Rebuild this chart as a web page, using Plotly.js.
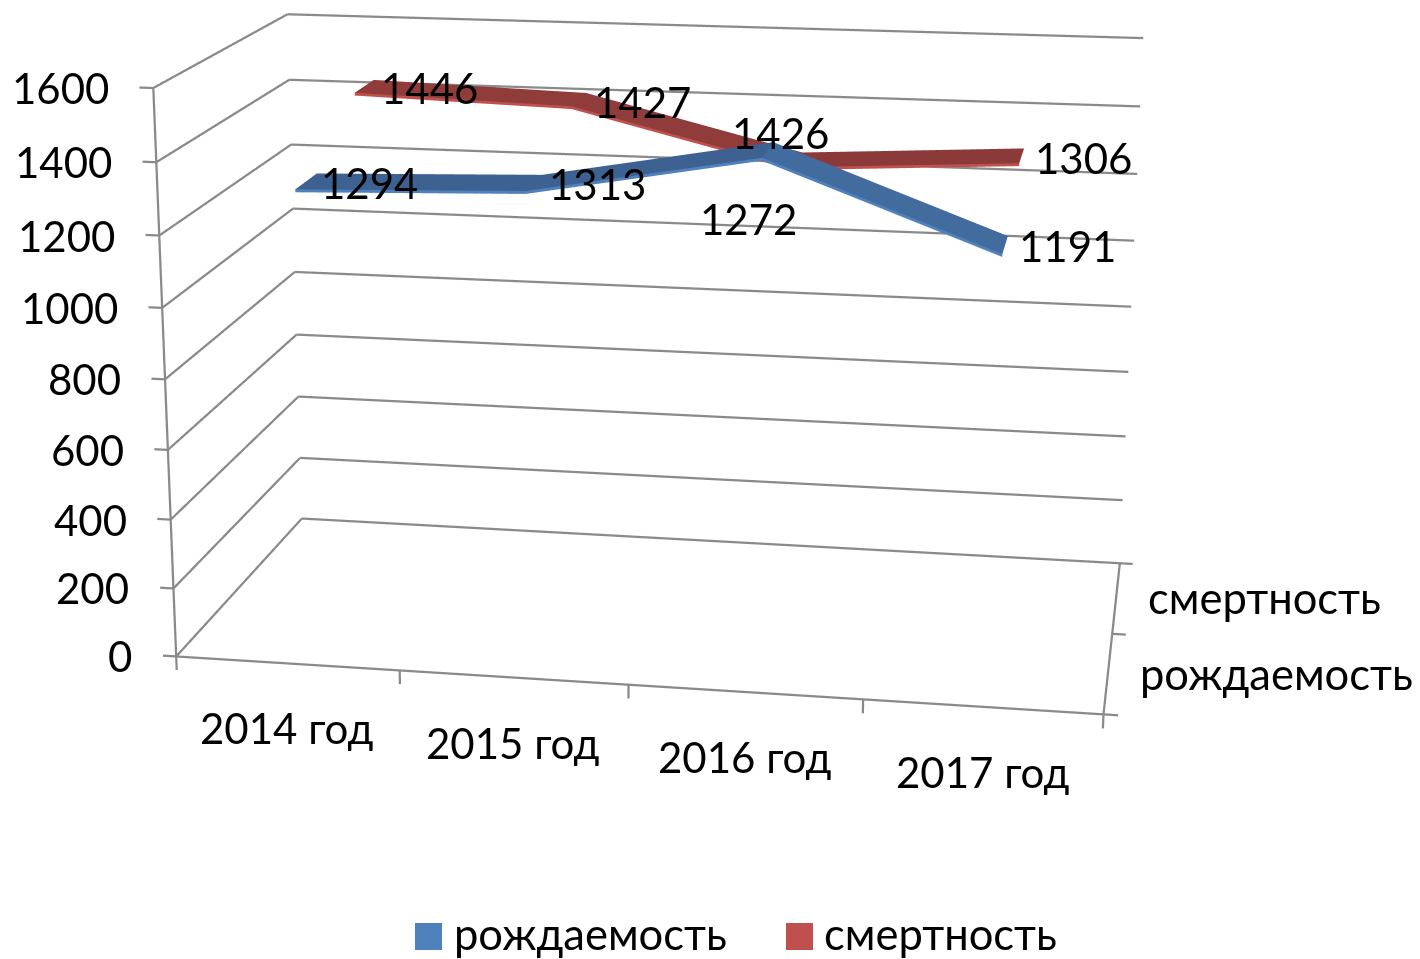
<!DOCTYPE html><html><head><meta charset="utf-8"><script src="https://cdn.plot.ly/plotly-3.0.1.min.js"></script>
<style>html,body{margin:0;padding:0;width:1420px;height:959px;overflow:hidden;background:#fff}#view{position:absolute;left:0;top:0;width:1420px;height:959px;overflow:hidden}#g{position:absolute;left:-176px;top:-912px;width:1596px;height:2722px}</style></head><body><div id="view"><div id="g"></div></div><script>
var categories=['2014 год','2015 год','2016 год','2017 год'];
var seriesNames=['рождаемость','смертность'];
var birth=[1294,1313,1426,1191];
var death=[1446,1427,1272,1306];
var zTicks=[0,200,400,600,800,1000,1200,1400,1600];

var W=1596, H=2722, LEFT=176, TOP=912;
var FONT='Lato, "Noto Sans", sans-serif', FS=42, FC=42, FL=43.5, AXIS='#8a8a8a';
var halfWidth=0.17, thick=8;
var xMax=categories.length, yMax=seriesNames.length, zMax=1600;
var tx=0.06, tz=40;
var padX=0.2, padY=0.2, padZ=100;
var topCols=[['#3d6292','#3d6292','#426b9e'],['#8f3c3a','#8f3c3a','#8c3a39']];
var edgeCols=['#4f81bd','#c0504d'];
var labelShift=[[[63,-2],[64,-1],[13,17],[62,-1]],[[65,-2],[64,-2],[-49,-59],[62,-2]]];

function ribbon(vals,sy,s){
  var x=[],y=[],z=[],I=[],J=[],K=[],fc=[];
  vals.forEach(function(v,n){var c=n+0.5;
    x.push(c,c,c);y.push(sy-halfWidth,sy+halfWidth,sy-halfWidth);z.push(v,v,v-thick);});
  for(var n=0;n<vals.length-1;n++){var a=3*n,b=3*n+3;
    I.push(a,a);J.push(a+1,b+1);K.push(b+1,b);fc.push(topCols[s][n],topCols[s][n]);
    I.push(a,a+2);J.push(b,b);K.push(a+2,b+2);fc.push(edgeCols[s],edgeCols[s]);}
  return {type:'mesh3d',name:seriesNames[s],x:x,y:y,z:z,i:I,j:J,k:K,facecolor:fc,flatshading:true,hoverinfo:'skip',showscale:false,
    lighting:{ambient:1,diffuse:0,specular:0,fresnel:0,roughness:1}};
}
// wall gridlines, axis lines and tick marks, built from the axis ticks
var gx=[],gy=[],gz=[];
function seg(a,b){gx.push(a[0],b[0],null);gy.push(a[1],b[1],null);gz.push(a[2],b[2],null);}
zTicks.forEach(function(v){seg([0,0,v],[0,yMax,v]);seg([0,yMax,v],[xMax,yMax,v]);seg([-tx,0,v],[0,0,v]);});
seg([0,0,0],[0,0,zMax]);seg([0,0,0],[xMax,0,0]);seg([xMax,0,0],[xMax,yMax,0]);
for(var i=0;i<=xMax;i++)seg([i,0,0],[i,0,-tz]);
for(var j=0;j<=yMax;j++)seg([xMax,j,0],[xMax+tx,j,0]);
var frame={type:'scatter3d',mode:'lines',x:gx,y:gy,z:gz,line:{color:AXIS,width:4.5},hoverinfo:'skip',connectgaps:false,showlegend:false};

var txt=function(o,fs){return Object.assign({showarrow:false,font:{family:FONT,size:fs||FS,color:'#000'}},o);};
var ann3=[];
zTicks.forEach(function(v){ann3.push(txt({x:0,y:0,z:v,text:String(v),xanchor:'right',yanchor:'middle',xshift:-42}));});
categories.forEach(function(c,n){ann3.push(txt({x:n+0.5,y:0,z:0,text:c,xanchor:'center',yanchor:'middle',yshift:-65},FC));});
seriesNames.forEach(function(c,n){ann3.push(txt({x:xMax,y:n+0.5,z:0,text:c,xanchor:'left',yanchor:'middle',xshift:30,yshift:0},FL));});
[birth,death].forEach(function(vals,s){vals.forEach(function(v,n){
  ann3.push(txt({x:n+0.5,y:s+0.5,z:v,text:String(v),xanchor:'center',yanchor:'middle',xshift:labelShift[s][n][0],yshift:labelShift[s][n][1]}));});});

function py(p){return 1-(p+TOP)/H;}
function px(p){return (p+LEFT)/W;}
var legend=[[415,442,452,seriesNames[0],'#4f81bd'],[786,813,822,seriesNames[1],'#c0504d']];
var shapes=legend.map(function(l){return {type:'rect',xref:'paper',yref:'paper',x0:px(l[0]),x1:px(l[1]),y0:py(950),y1:py(923),fillcolor:l[4],line:{width:0}};});
var anns=legend.map(function(l){return txt({xref:'paper',yref:'paper',x:px(l[2]),y:py(933),text:l[3],xanchor:'left',yanchor:'middle'},FL);});

var ax=function(o){return Object.assign({visible:false,showbackground:false,showspikes:false,zeroline:false,showticklabels:false,title:{text:''},showline:false,ticks:'',showgrid:false},o);};
var layout={width:W,height:H,margin:{l:0,r:0,t:0,b:0,pad:0},paper_bgcolor:'#fff',showlegend:false,shapes:shapes,annotations:anns,
  scene:{domain:{x:[0,1],y:[0,1]},aspectmode:'manual',
    aspectratio:{x:1*(xMax+2*padX)/xMax,y:0.509*(yMax+2*padY)/yMax,z:0.62434*(zMax+2*padZ)/zMax},
    camera:{eye:{x:0.57248,y:-3.48624,z:0.90342},center:{x:0.02428,y:-0.42947,z:0},up:{x:0,y:0,z:1},projection:{type:'perspective'}},
    xaxis:ax({range:[-padX,xMax+padX]}),
    yaxis:ax({range:[-padY,yMax+padY]}),
    zaxis:ax({range:[-padZ,zMax+padZ]}),
    annotations:ann3}};
Plotly.newPlot('g',[frame,ribbon(birth,0.5,0),ribbon(death,1.5,1)],layout,{displayModeBar:false});
</script></body></html>
